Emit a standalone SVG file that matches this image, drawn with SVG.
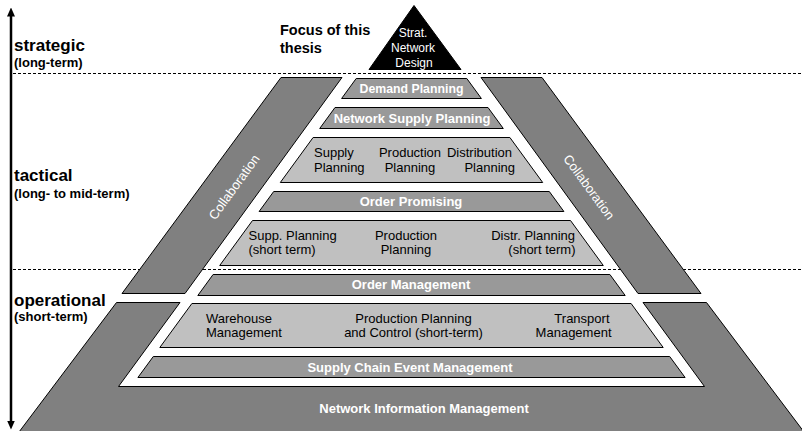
<svg xmlns="http://www.w3.org/2000/svg" width="802" height="431" viewBox="0 0 802 431">
<defs>
<style>
.band{fill:#808080;stroke:#000;stroke-width:1}
.mid{fill:#999999;stroke:#000;stroke-width:1}
.light{fill:#c0c0c0;stroke:#000;stroke-width:1}
.dash{fill:none;stroke:#000;stroke-width:1;stroke-dasharray:3 2}
text{font-family:"Liberation Sans",Arial,Helvetica,sans-serif}
.lbl{font-size:13px;font-weight:bold;fill:#fff;text-anchor:middle}
.txt{font-size:13px;fill:#000}
.col{font-size:13px;fill:#fff;text-anchor:middle}
.lvl{font-size:17px;font-weight:bold;fill:#000}
.sub{font-size:13px;font-weight:bold;fill:#000}
.mid-a{text-anchor:middle}
.end-a{text-anchor:end}
</style>
<marker id="ah" markerUnits="userSpaceOnUse" viewBox="0 0 9 8" markerWidth="9" markerHeight="8" refX="0.5" refY="4" orient="auto-start-reverse">
<path d="M0,0 L9,4 L0,8 z" fill="#000"/>
</marker>
</defs>

<g id="levels">
<line class="dash" x1="13" y1="73.5" x2="802" y2="73.5"/>
<line class="dash" x1="13" y1="269.5" x2="802" y2="269.5"/>
<text class="lvl" x="14" y="50.5">strategic</text>
<text class="sub" x="14" y="66.5">(long-term)</text>
<text class="lvl" x="14" y="181">tactical</text>
<text class="sub" x="14" y="197.5">(long- to mid-term)</text>
<text class="lvl" x="14" y="306">operational</text>
<text class="sub" x="14" y="321">(short-term)</text>
</g>

<g id="connectors">
<line x1="11" y1="16" x2="11" y2="421" stroke="#000" stroke-width="2.5" marker-start="url(#ah)" marker-end="url(#ah)"/>
</g>

<g id="focus">
<text x="280" y="34.5" style="font-size:14.5px;font-weight:bold">Focus of this</text>
<text x="280" y="52.5" style="font-size:14.5px;font-weight:bold">thesis</text>
</g>

<g id="strat-network-design">
<polygon points="414,5.5 461,69.5 369,69.5" fill="#000" stroke="#000" stroke-width="1"/>
<text class="col" x="413" y="36.5" style="font-size:12px">Strat.</text>
<text class="col" x="413" y="51.5" style="font-size:12px">Network</text>
<text class="col" x="414" y="66.5" style="font-size:12px">Design</text>
</g>

<g id="collab-left">
<polygon class="band" points="281,77.5 342,77.5 185,293.5 122,293.5"/>
<text class="col" transform="translate(234,187) rotate(-54)" x="0" y="4.5">Collaboration</text>
</g>

<g id="collab-right">
<polygon class="band" points="481,77.5 542,77.5 701,293.5 638,293.5"/>
<text class="col" transform="translate(589,187) rotate(54)" x="0" y="4.5">Collaboration</text>
</g>

<g id="network-information-management">
<polygon class="band" points="116.5,302.5 180,302.5 118.5,386.5 704.5,386.5 643,302.5 706.5,302.5 804,432 19,432"/>
<text class="lbl" x="424" y="412.5">Network Information Management</text>
</g>

<g id="demand-planning">
<polygon class="mid" points="356.2,78.5 466.8,78.5 481.4,98.5 341.6,98.5"/>
<text class="lbl" x="411.5" y="92.5" style="font-size:12.3px">Demand Planning</text>
</g>

<g id="network-supply-planning">
<polygon class="mid" points="335,107.5 488,107.5 503.3,128.5 319.7,128.5"/>
<text class="lbl" x="412" y="122.5">Network Supply Planning</text>
</g>

<g id="supply-production-distribution">
<polygon class="light" points="313.1,137.5 509.9,137.5 542.7,182.5 280.3,182.5"/>
<text class="txt" x="314" y="156.5">Supply</text>
<text class="txt" x="314" y="171.5">Planning</text>
<text class="txt mid-a" x="410" y="156.5">Production</text>
<text class="txt mid-a" x="410" y="171.5">Planning</text>
<text class="txt end-a" x="512" y="156.5">Distribution</text>
<text class="txt end-a" x="515" y="171.5">Planning</text>
</g>

<g id="order-promising">
<polygon class="mid" points="273.7,191.5 549.3,191.5 563.9,211.5 259.1,211.5"/>
<text class="lbl" x="411" y="206">Order Promising</text>
</g>

<g id="short-term-planning">
<polygon class="light" points="252.5,220.5 570.5,220.5 603.3,265.5 219.7,265.5"/>
<text class="txt" x="248.5" y="239.5">Supp. Planning</text>
<text class="txt" x="248.5" y="254">(short term)</text>
<text class="txt mid-a" x="406" y="239.5">Production</text>
<text class="txt mid-a" x="406" y="254">Planning</text>
<text class="txt end-a" x="575" y="239.5">Distr. Planning</text>
<text class="txt end-a" x="575.5" y="254">(short term)</text>
</g>

<g id="order-management">
<polygon class="mid" points="213.1,274.5 609.9,274.5 625.2,295.5 197.8,295.5"/>
<text class="lbl" x="411" y="289">Order Management</text>
</g>

<g id="execution">
<polygon class="light" points="191.9,303.5 631.1,303.5 663.2,347.5 159.8,347.5"/>
<text class="txt" x="206" y="322.5">Warehouse</text>
<text class="txt" x="206" y="337">Management</text>
<text class="txt mid-a" x="413.5" y="322.5">Production Planning</text>
<text class="txt mid-a" x="413.5" y="337">and Control (short-term)</text>
<text class="txt end-a" x="609.5" y="322.5">Transport</text>
<text class="txt end-a" x="611.5" y="337">Management</text>
</g>

<g id="supply-chain-event-management">
<polygon class="mid" points="153.3,356.5 669.7,356.5 685.1,377.5 137.9,377.5"/>
<text class="lbl" x="410" y="372">Supply Chain Event Management</text>
</g>
</svg>
